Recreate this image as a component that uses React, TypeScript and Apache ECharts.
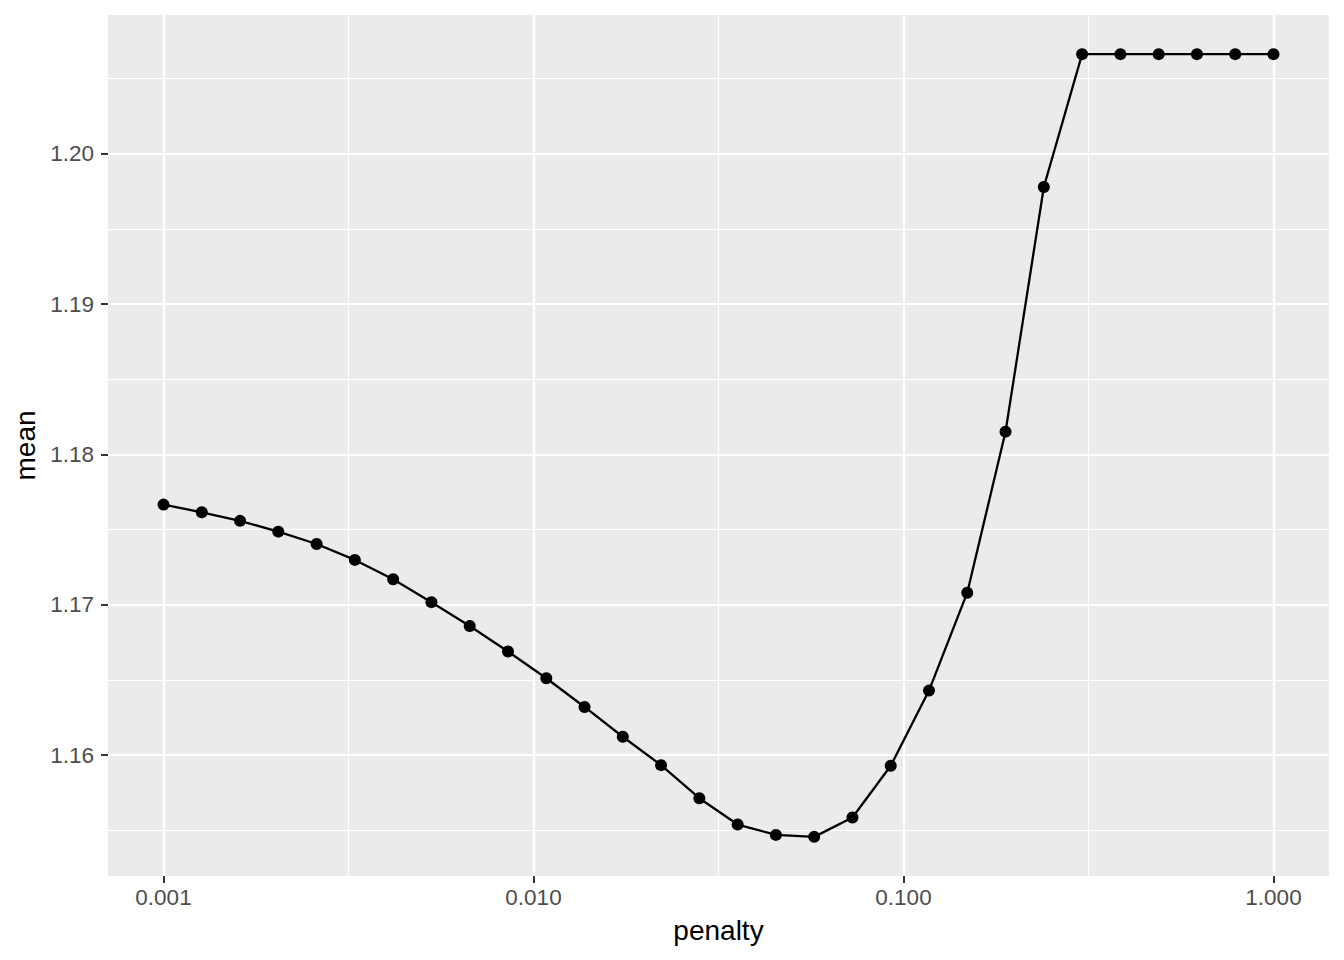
import React, { useEffect, useRef } from "react";
import * as echarts from "echarts";

const penalty = [
  0.001, 0.001269, 0.00161, 0.002043, 0.002593, 0.00329, 0.004175, 0.005298,
  0.006723, 0.008532, 0.01083, 0.01374, 0.01743, 0.02212, 0.02807, 0.03562,
  0.0452, 0.05736, 0.07279, 0.09237, 0.1172, 0.1487, 0.1887, 0.2395, 0.3039,
  0.3857, 0.4894, 0.621, 0.788, 1.0,
];
const meanValues = [
  1.17666, 1.17615, 1.17558, 1.17486, 1.17404, 1.17298, 1.17169, 1.17017,
  1.16858, 1.16689, 1.16511, 1.1632, 1.16122, 1.15933, 1.15713, 1.15538,
  1.15469, 1.15456, 1.15585, 1.15929, 1.16429, 1.1708, 1.18151, 1.19778,
  1.20662, 1.20662, 1.20662, 1.20662, 1.20662, 1.20662,
];
const xMajorTicks = [0.001, 0.01, 0.1, 1];
const xMinorTicks = [0.0031623, 0.031623, 0.31623];
const yMajorTicks = [1.16, 1.17, 1.18, 1.19, 1.2];
const yMinorTicks = [1.155, 1.165, 1.175, 1.185, 1.195, 1.205];

const FONT = "'Liberation Sans', Arial, Helvetica, sans-serif";

export default function App() {
  const ref = useRef<HTMLDivElement>(null);
  useEffect(() => {
    document.body.style.margin = "0";
    if (!ref.current) return;
    const chart = echarts.init(ref.current, undefined, { renderer: "svg" });

    const lxMin = Math.log10(Math.min(...penalty));
    const lxMax = Math.log10(Math.max(...penalty));
    const lxPad = (lxMax - lxMin) * 0.05;
    const xMin = Math.pow(10, lxMin - lxPad);
    const xMax = Math.pow(10, lxMax + lxPad);
    const yLo = Math.min(...meanValues);
    const yHi = Math.max(...meanValues);
    const yPad = (yHi - yLo) * 0.05;
    const yMin = yLo - yPad;
    const yMax = yHi + yPad;

    const hidden = {
      axisLine: { show: false },
      axisLabel: { show: false },
    };

    chart.setOption({
      animation: false,
      backgroundColor: "#FFFFFF",
      grid: {
        left: 108,
        right: 15,
        top: 15,
        bottom: 84,
        show: true,
        backgroundColor: "#EBEBEB",
        borderWidth: 0,
        containLabel: false,
      },
      xAxis: [
        {
          type: "log",
          min: xMin,
          max: xMax,
          name: "penalty",
          nameLocation: "middle",
          nameGap: 40,
          nameTextStyle: { fontFamily: FONT, fontSize: 28, color: "#000000" },
          axisLine: { show: false },
          axisTick: {
            show: true,
            length: 7,
            customValues: xMajorTicks,
            lineStyle: { color: "#333333", width: 2 },
          },
          axisLabel: {
            show: true,
            customValues: xMajorTicks,
            margin: 10,
            fontFamily: FONT,
            fontSize: 22.5,
            color: "#4D4D4D",
            formatter: (v: number) => Number(v).toFixed(3),
          },
          splitLine: { show: true, lineStyle: { color: "#FFFFFF", width: 2.2 } },
          minorTick: { show: false },
          minorSplitLine: { show: false },
        },
        {
          type: "log",
          min: xMin,
          max: xMax,
          ...hidden,
          axisTick: { show: false, customValues: xMinorTicks },
          splitLine: { show: true, lineStyle: { color: "#FFFFFF", width: 1.1 } },
        },
      ],
      yAxis: [
        {
          type: "value",
          min: yMin,
          max: yMax,
          name: "mean",
          nameLocation: "middle",
          nameGap: 63,
          nameTextStyle: { fontFamily: FONT, fontSize: 28, color: "#000000" },
          axisLine: { show: false },
          axisTick: {
            show: true,
            length: 7,
            customValues: yMajorTicks,
            lineStyle: { color: "#333333", width: 2 },
          },
          axisLabel: {
            show: true,
            customValues: yMajorTicks,
            margin: 14,
            fontFamily: FONT,
            fontSize: 22.5,
            color: "#4D4D4D",
            formatter: (v: number) => Number(v).toFixed(2),
          },
          splitLine: { show: true, lineStyle: { color: "#FFFFFF", width: 2.2 } },
        },
        {
          type: "value",
          min: yMin,
          max: yMax,
          ...hidden,
          axisTick: { show: false, customValues: yMinorTicks },
          splitLine: { show: true, lineStyle: { color: "#FFFFFF", width: 1.1 } },
        },
      ],
      series: [
        {
          type: "line",
          xAxisIndex: 0,
          yAxisIndex: 0,
          data: penalty.map((p, i) => [p, meanValues[i]]),
          symbol: "circle",
          symbolSize: 12,
          showSymbol: true,
          itemStyle: { color: "#000000" },
          lineStyle: { color: "#000000", width: 2.3 },
          z: 5,
        },
      ],
    });
    return () => chart.dispose();
  }, []);
  return (
    <div
      ref={ref}
      style={{ position: "absolute", left: 0, top: 0, width: 1344, height: 960 }}
    />
  );
}
